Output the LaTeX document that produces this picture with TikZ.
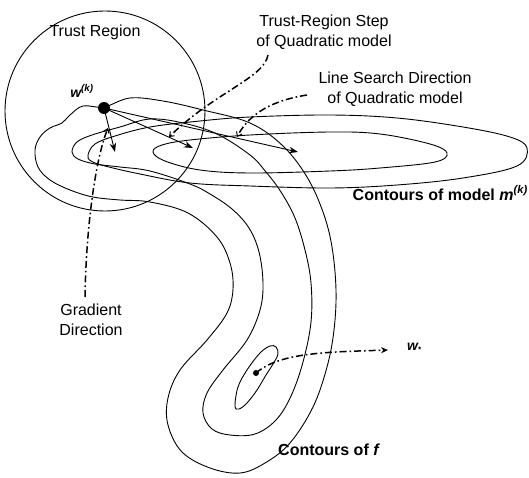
\documentclass[tikz,border=0pt]{standalone}
\usepackage{fontspec}
\setmainfont{Liberation Sans}
\usetikzlibrary{arrows.meta}
\begin{document}
\begin{tikzpicture}[x=1pt,y=-1pt,
  cont/.style={line width=0.9pt, line join=round},
  dd/.style={line width=1.5pt, dash pattern=on 7pt off 3pt on 1.6pt off 3pt},
  arr/.style={line width=0.9pt, -{Stealth[length=9pt,width=6.5pt]}},
  smalltip/.style={-{Straight Barb[length=4pt,width=6pt,line width=1pt]}},
  filltip/.style={-{Stealth[length=7pt,width=6pt]}},
  lbl/.style={font=\fontsize{16}{20}\selectfont, align=center, inner sep=0pt},
  blbl/.style={font=\fontsize{16}{20}\selectfont\bfseries, inner sep=0pt}]
\useasboundingbox (0,0) rectangle (529,478);

% trust region
\draw[cont] (105,111) circle [radius=100];

% model contours
\draw[cont] plot[smooth cycle, tension=0.6] coordinates {
 (88,155) (95,144) (115,136) (150,127) (200,121) (250,117) (330,115) (397,118)
 (463,127) (510,137) (527,148) (517,166) (463,178) (397,185) (330,188) (250,186)
 (190,183) (140,174) (105,166) (91,161)};
\draw[cont] plot[smooth cycle, tension=0.6] coordinates {
 (153,152) (162,145) (190,140) (250,135) (330,132) (380,134) (430,144) (447,153)
 (435,162) (380,168) (330,171) (250,173) (200,170) (165,161)};

% contours of f
\draw[cont] plot[smooth cycle, tension=0.6] coordinates {
 (104,107) (130,98) (163,101) (203,110) (250,123) (283,146) (307,177) (323,212)
 (332,247) (336,290) (334,330) (327,367) (313,407) (290,443) (265,463) (240,473)
 (210,468) (182,452) (168,425) (168,398) (180,370) (207,340) (227,313) (233,289)
 (230,263) (217,237) (188,213) (150,202) (120,200) (93,197) (70,190) (50,180)
 (38,167) (35,150) (40,137) (50,128) (62,123) (70,115) (83,106)};
\draw[cont] plot[smooth cycle, tension=0.6] coordinates {
 (72,152) (77,142) (92,135) (120,127) (150,119) (183,123) (217,134) (250,155)
 (266,172) (281,192) (295,218) (305,250) (311,283) (311,322) (303,362) (291,396)
 (276,420) (255,434) (230,435) (212,429) (203,413) (207,393) (223,370) (247,340)
 (260,310) (263,283) (259,252) (249,228) (232,209) (210,194) (190,184) (150,171)
 (120,167) (95,164) (78,159)};
\draw[cont] plot[smooth cycle, tension=0.6] coordinates {
 (235,406) (238,387) (247,370) (260,353) (270,346) (276,347) (278,354) (273,364)
 (266,375) (257,390) (247,403) (239,409)};

% points
\node[circle, fill=black, inner sep=0pt, minimum size=12pt] (wk) at (104,108) {};
\node[circle, fill=black, inner sep=0pt, minimum size=6pt] (ws) at (256,373) {};

% arrows from w^(k)
\coordinate (gtip) at (115,152);
\coordinate (ttip) at (193,148);
\coordinate (ltip) at (298,152);
\draw[arr] (wk.center) -- (gtip);
\draw[arr] (wk.center) -- (ttip);
\draw[arr] (wk.center) -- (ltip);

% labels
\node[lbl] (tr) at (95,32) {Trust Region};
\node[lbl] (trs) at (324,32) {Trust-Region Step\\of Quadratic model};
\node[lbl] (lsd) at (395,89) {Line Search Direction\\of Quadratic model};
\node[lbl] (gd) at (91,320) {Gradient\\Direction};
\node[blbl, anchor=east] (cm) at (528,193) {Contours of model \textit{m}\textsuperscript{\textit{(k)}}};
\node[blbl, anchor=west] (cf) at (278,450) {Contours of \textit{f}};
\node[font=\fontsize{14}{16}\selectfont\bfseries\itshape, inner sep=0pt] (wkl) at (82,91) {w\textsuperscript{(k)}};
\node[font=\fontsize{14}{16}\selectfont\bfseries\itshape, inner sep=0pt] (wsl) at (414,348) {w\raisebox{-2pt}{\fontsize{8}{8}\selectfont *}};

% dash-dot connectors
\coordinate (trsA) at (268,55);
\coordinate (trsB) at (169,137);
\coordinate (lsdA) at (307,95);
\coordinate (lsdB) at (237,137);
\coordinate (gdA) at (85,297);
\coordinate (gdB) at (108,128);
\coordinate (wsB) at (388,350);
\draw[dd, smalltip] (trsA) .. controls (264,78) and (215,92) .. (trsB);
\draw[dd, smalltip] (lsdA) .. controls (275,100) and (250,112) .. (lsdB);
\draw[dd, smalltip] (gdA) .. controls (86,230) and (95,160) .. (gdB);
\draw[dd, filltip] (ws.center) .. controls (280,352) and (330,352) .. (wsB);
\end{tikzpicture}
\end{document}
